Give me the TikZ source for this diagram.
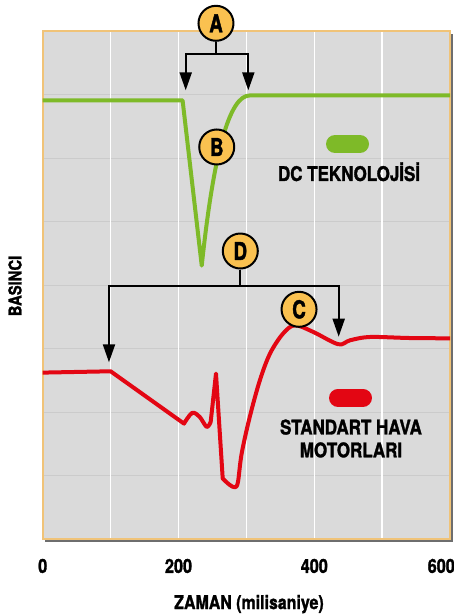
\documentclass[tikz,border=0pt]{standalone}
\usepackage{fontspec}
\setmainfont{TeX Gyre Heros}[FakeStretch=0.84,BoldFeatures={FakeBold=1.5}]
\newfontfamily\markfont{TeX Gyre Heros}[FakeStretch=0.76,BoldFeatures={FakeBold=1.8}]
\usetikzlibrary{arrows.meta}
\definecolor{dcgreen}{RGB}{126,186,40}
\definecolor{stdred}{RGB}{227,6,19}
\definecolor{markgold}{RGB}{250,193,80}
\definecolor{plotbg}{RGB}{218,218,218}
\definecolor{gridgray}{RGB}{203,203,203}
\definecolor{framegold}{RGB}{240,195,120}
\definecolor{shadowgray}{RGB}{110,110,110}

\begin{document}
\begin{tikzpicture}[x=1.358cm,y=1.27cm,
  marker/.style={circle,draw=black,line width=0.04cm,fill=markgold,minimum size=0.7cm,inner sep=0pt,font=\markfont\bfseries\fontsize{14}{14}\selectfont},
  bracket/.style={line width=0.04cm,black},
  pointer/.style={bracket,{Triangle[length=0.36cm,width=0.24cm]}-{Triangle[length=0.36cm,width=0.24cm]}},
  curve/.style={line width=0.08cm,line join=round},
  legendtxt/.style={font=\bfseries\fontsize{11.5}{13}\selectfont,align=center},
  axistxt/.style={font=\bfseries\fontsize{11}{11}\selectfont}]
\useasboundingbox (-0.629,-1.192) rectangle (6.057,8.493);

% plot area with grid
\fill[shadowgray] (0.04,-0.04) rectangle (6.04,7.96);
\fill[plotbg] (0,0) rectangle (6,8);
\foreach \y in {1,...,7} \draw[gridgray,line width=0.02cm] (0,\y)--(6,\y);
\foreach \x in {1,...,5} \draw[white,line width=0.03cm] (\x,0)--(\x,8);
\draw[framegold,line width=0.035cm] (0,0) rectangle (6,8);

% curves
\draw[dcgreen,curve] (0,6.913) -- (2.06,6.913) -- (2.342,4.31)
   .. controls (2.52,6.1) and (2.75,6.99) .. (3.05,6.99) -- (6,6.99);
\draw[stdred,curve] (0,2.625) -- (1,2.646) -- (2.081,1.822)
   -- plot[smooth,tension=0.55] coordinates {(2.081,1.822) (2.2,1.99) (2.31,1.93) (2.415,1.77) (2.474,1.85)}
   -- (2.552,2.61) -- (2.651,0.957)
   -- plot[smooth,tension=0.55] coordinates {(2.651,0.957) (2.75,0.86) (2.83,0.82) (2.875,0.9) (2.93,1.35)
      (3.05,1.93) (3.2,2.51) (3.35,2.93) (3.54,3.24) (3.716,3.37) (3.985,3.265) (4.353,3.072)
      (4.526,3.134) (4.82,3.186) (5.4,3.17) (6,3.165)};

% legend
\draw[dcgreen,line width=0.36cm,line cap=round] (4.305,6.225) -- (4.673,6.225);
\draw[stdred,line width=0.36cm,line cap=round] (4.349,2.228) -- (4.717,2.228);
\node[legendtxt,anchor=base] (dclbl) at (4.511,5.643) {DC TEKNOLOJİSİ};
\node[legendtxt] (stdlbl) at (4.54,1.587) {STANDART HAVA\\MOTORLARI};

% brackets
\coordinate (Aj) at (2.552,7.649);
\coordinate (Al) at (2.106,7.07);
\coordinate (Ar) at (3.028,7.07);
\coordinate (Dj) at (2.91,3.995);
\coordinate (Dl) at (0.976,2.787);
\coordinate (Dr) at (4.359,3.19);
\draw[pointer] (Al) |- (Aj) -| (Ar);
\draw[pointer] (Dl) |- (Dj) -| (Dr);

\node[marker] (A) at (2.552,8.126) {A};
\node[marker] (B) at (2.563,6.178) {B};
\node[marker] (C) at (3.775,3.622) {C};
\node[marker] (D) at (2.91,4.54) {D};
\draw[bracket] (A) -- (Aj);
\draw[bracket] (D) -- (Dj);

% axes labels
\foreach \t/\xx in {0/0,200/2,400/4,600/5.87}
  \node[axistxt] (tick\t) at (\xx,-0.42) {\t};
\node[axistxt,font=\bfseries\fontsize{10.8}{11}\selectfont] (xlbl) at (3.038,-1.02) {ZAMAN (milisaniye)};
\node[axistxt,font=\bfseries\fontsize{10}{10}\selectfont,rotate=90] (ylbl) at (-0.408,3.99) {BASINCI};
\end{tikzpicture}
\end{document}
